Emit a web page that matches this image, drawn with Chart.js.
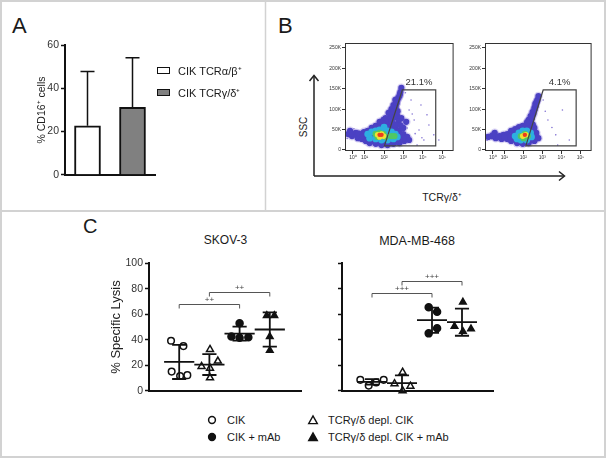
<!DOCTYPE html>
<html>
<head>
<meta charset="utf-8">
<script src="https://cdn.jsdelivr.net/npm/chart.js@4.4.0/dist/chart.umd.min.js"></script>
<style>
  html, body { margin: 0; padding: 0; background: #fff; }
  #fig { position: relative; width: 606px; height: 459px; overflow: hidden;
         font-family: "Liberation Sans", Arial, sans-serif; color: #1a1a1a; }
  #fig canvas { position: absolute; }
  .t { position: absolute; white-space: nowrap; line-height: 1; }
  .c { transform: translate(-50%, -50%); }
  .m { transform: translateY(-50%); }
</style>
</head>
<body>
<div id="fig">
  <svg width="606" height="459" style="position:absolute;left:0;top:0">
    <rect x="1" y="1" width="604" height="456" fill="none" stroke="#d2d2d2" stroke-width="2"/>
    <line x1="265.5" y1="0" x2="265.5" y2="211" stroke="#d2d2d2" stroke-width="1.5"/>
    <line x1="0" y1="211" x2="606" y2="211" stroke="#d2d2d2" stroke-width="2"/>
    <g stroke="#222" stroke-width="1.5" fill="none">
      <line x1="314" y1="176" x2="314" y2="76"/>
      <polyline points="309.5,81 314,75.5 318.5,81"/>
      <line x1="314" y1="176" x2="564" y2="176"/>
      <polyline points="559,171.5 564.5,176 559,180.5"/>
    </g>
    <g id="lysisMarkers"></g>
  </svg>

  <div class="t" style="left:12px;top:15px;font-size:22px">A</div>
  <div class="t" style="left:278px;top:15px;font-size:22px">B</div>
  <div class="t" style="left:83px;top:216px;font-size:20px">C</div>

  <div class="t c" style="left:304px;top:127px;font-size:10px;transform:translate(-50%,-50%) rotate(-90deg)">SSC</div>
  <div class="t c" style="left:442px;top:197px;font-size:10.5px">TCRγ/δ⁺</div>

  <div class="t c" style="left:225.5px;top:240px;font-size:12px">SKOV-3</div>
  <div class="t c" style="left:417px;top:241px;font-size:12.5px">MDA-MB-468</div>

  <canvas id="cd16" width="130" height="146" style="left:30px;top:37px"></canvas>
  <canvas id="facsTotal" width="135" height="125" style="left:323px;top:38px"></canvas>
  <canvas id="facsDepl" width="133" height="125" style="left:463px;top:38px"></canvas>
  <canvas id="skov" width="207" height="144" style="left:100px;top:255px"></canvas>
  <canvas id="mda" width="165" height="144" style="left:334px;top:255px"></canvas>
</div>

<script>
// ---- panel A: % CD16+ cells ----
const cd16Groups = ['CIK TCRα/β⁺', 'CIK TCRγ/δ⁺'];
const cd16Mean = [22.7, 31.2];
const cd16Sd = [25.2, 23.0];
const cd16Ticks = [0, 20, 40, 60];

// ---- panel B: flow plots, x in display decades, y in K events ----
const facsXTicks = [0, 0.6, 1.6, 2.6, 3.6, 4.6];
const facsXLabels = ['10⁰', '10¹', '10²', '10³', '10⁴', '10⁵'];
const facsYTicks = [0, 50, 100, 150, 200, 250];
const facsYLabels = ['0', '50K', '100K', '150K', '200K', '250K'];

const gateTotal = [[1.62, 10], [2.54, 147], [4.26, 147], [4.26, 10]];
const gateDepl = [[1.73, 10], [2.64, 147], [4.37, 147], [4.37, 10]];
const gatePct = ['21.1%', '4.1%'];

const totalSparse = [[2.89, 98], [3.15, 73.5], [3.40, 49], [3.65, 24.5], [3.91, 61], [2.99, 122.5],
  [3.30, 12], [4.16, 37], [3.81, 86], [2.79, 54], [4.42, 24.5], [3.50, 110], [3.05, 88], [3.2, 40],
  [2.7, 140], [3.55, 30], [-0.3, 28], [0.05, 52]];
const totalBlue = [[-0.25, 39], [-0.05, 34], [0.15, 42], [0.36, 37], [0.56, 44], [0.76, 47], [-0.15, 47],
  [0.25, 29], [0.46, 27], [0.66, 29], [0.96, 54], [1.17, 59], [1.37, 61], [1.57, 64], [1.78, 64],
  [1.98, 59], [2.18, 54], [2.39, 47], [2.59, 39], [2.79, 32], [2.89, 24.5], [2.64, 22], [2.39, 17],
  [2.08, 15], [1.78, 12], [1.47, 12], [1.17, 15], [0.86, 17], [0.66, 22], [0.96, 37], [2.28, 29],
  [1.78, 73.5], [1.93, 83], [2.03, 93], [2.13, 103], [2.23, 113], [2.28, 122.5], [2.39, 132],
  [2.44, 142], [2.49, 152], [1.68, 78], [1.83, 91], [1.98, 100], [2.08, 110], [2.18, 122.5],
  [2.59, 54], [2.74, 69], [2.49, 78], [2.28, 83], [1.57, 73.5], [1.37, 69],
  [1.1, 50], [1.3, 54], [1.5, 56], [1.7, 58], [1.9, 55], [2.1, 50], [2.3, 42], [2.5, 35], [2.6, 28],
  [2.4, 24], [2.2, 20], [1.9, 18], [1.6, 17], [1.3, 18], [1.0, 22], [0.8, 33], [1.0, 30], [2.4, 36],
  [2.0, 25], [1.5, 20], [0.05, 38], [0.3, 40], [0.5, 34], [0.7, 36], [-0.1, 40],
  [1.85, 70], [1.95, 78], [2.05, 86], [2.1, 95], [2.2, 105], [2.25, 115], [2.33, 127], [2.42, 137],
  [1.7, 68], [2.0, 70], [2.15, 80], [2.35, 70], [2.3, 95], [1.55, 66], [2.2, 62], [2.45, 60]];
const totalCyan = [[0.76, 39], [0.96, 44], [1.17, 47], [1.37, 49], [1.57, 49], [1.78, 47], [1.98, 44],
  [2.18, 39], [2.28, 32], [2.08, 27], [1.78, 24.5], [1.47, 24.5], [1.17, 27], [0.86, 29], [1.6, 56]];
const totalGreen = [[1.17, 39], [1.37, 42], [1.57, 39], [1.68, 32], [1.27, 32], [1.98, 34], [2.13, 34]];
const totalYellow = [[1.27, 37], [1.47, 39], [1.57, 34], [1.37, 32]];
const totalRed = [[1.37, 37], [1.47, 37]];

const deplSparse = [[2.89, 73.5], [3.30, 37], [3.65, 98], [4.01, 24.5], [2.64, 122.5], [3.40, 12],
  [2.75, 95], [3.1, 55], [-0.3, 24]];
const deplBlue = [[-0.25, 32], [-0.05, 34], [0.15, 29], [0.36, 34], [0.56, 37], [0.76, 39], [0.10, 42],
  [0.46, 27], [0.96, 47], [1.17, 51], [1.37, 56], [1.57, 59], [1.78, 64], [1.98, 64], [2.18, 54],
  [2.28, 42], [2.39, 29], [2.18, 22], [1.88, 17], [1.57, 15], [1.27, 17], [0.96, 22], [0.76, 27],
  [1.88, 73.5], [1.98, 83], [2.08, 93], [2.18, 103], [2.23, 113], [2.34, 122.5], [2.39, 132],
  [1.1, 43], [1.3, 48], [1.5, 52], [1.7, 55], [1.9, 56], [2.1, 48], [2.25, 35], [2.2, 28], [2.0, 24],
  [1.7, 20], [1.4, 20], [1.1, 26], [0.9, 32], [0.3, 32], [0.6, 31], [0.0, 36], [1.95, 70], [2.05, 78],
  [2.13, 88], [2.18, 97], [2.25, 108], [2.3, 118], [1.85, 62], [2.1, 62], [1.8, 68]];
const deplCyan = [[1.17, 34], [1.37, 42], [1.57, 47], [1.78, 47], [1.98, 42], [2.03, 32], [1.78, 24.5],
  [1.47, 24.5], [1.27, 27]];
const deplGreen = [[1.47, 34], [1.68, 39], [1.83, 34], [1.62, 29]];
const deplYellow = [[1.57, 34], [1.73, 37]];
const deplRed = [[1.68, 37]];

// ---- panel C: % specific lysis ----
const lysisGroups = ['CIK', 'TCRγ/δ depl. CIK', 'CIK + mAb', 'TCRγ/δ depl. CIK + mAb'];
const lysisTicks = [0, 20, 40, 60, 80, 100];

const skovCik = [39.2, 35, 15, 11.5, 12.2];
const skovDepl = [32.4, 23.3, 19.0, 17.7, 10.1];
const skovCikMab = [53, 42.5, 41.5, 42];
const skovDeplMab = [59, 59, 42.5, 31.6];
const skovJitter = [[-0.27, 0.14, -0.25, 0.03, 0.27], [0.02, 0.28, -0.26, 0.02, 0.02],
  [0, -0.27, 0, 0.29], [-0.1, 0.15, 0, 0]];
const skovBrackets = [[0, 2, 68.4, '++'], [1, 3, 77.2, '++']];

const mdaCik = [8.5, 4, 6.5, 8.5];
const mdaDepl = [5.5, 14.5, 0, 3.5];
const mdaCikMab = [65.5, 62, 49, 45];
const mdaDeplMab = [69.5, 50.5, 46.5, 48.5];
const mdaJitter = [[-0.39, -0.11, 0.14, 0.39], [-0.25, 0.02, 0.02, 0.28],
  [-0.11, 0.17, 0.17, -0.11], [0.03, -0.25, 0.03, 0.3]];
const mdaBrackets = [[0, 2, 76.5, '+++'], [1, 3, 86.1, '+++']];

const FONT = '"Liberation Sans", Arial, sans-serif';
Chart.defaults.font.family = FONT;
Chart.defaults.color = '#222';
Chart.defaults.animation = false;
Chart.defaults.responsive = false;
Chart.defaults.devicePixelRatio = 1;
Chart.defaults.plugins.legend.display = false;
Chart.defaults.plugins.tooltip.enabled = false;

// html legends
const fig = document.getElementById('fig');
cd16Groups.forEach((name, i) => {
  const top = 66.5 + i * 22;
  const box = document.createElement('div');
  box.style.cssText = `position:absolute;left:157px;top:${top}px;width:11px;height:5px;` +
    `border:1.6px solid #111;background:${i ? '#808080' : '#fff'}`;
  fig.appendChild(box);
  const txt = document.createElement('div');
  txt.className = 't m';
  txt.style.cssText = `left:178px;top:${top + 4.5}px;font-size:11px`;
  txt.textContent = name;
  fig.appendChild(txt);
});

const markerSvg = document.getElementById('lysisMarkers');
lysisGroups.forEach((name, i) => {
  const col = i % 2, row = Math.floor(i / 2);
  const mx = col ? 313 : 212, my = row ? 437 : 420;
  const fill = row ? '#111' : '#fff';
  let shape;
  if (col === 0) {
    shape = `<circle cx="${mx}" cy="${my}" r="3.4" fill="${fill}" stroke="#111" stroke-width="1.5"/>`;
  } else {
    shape = `<polygon points="${mx - 4.3},${my + 3.6} ${mx},${my - 4} ${mx + 4.3},${my + 3.6}" fill="${fill}" stroke="#111" stroke-width="1.4"/>`;
  }
  markerSvg.insertAdjacentHTML('beforeend', shape);
  const txt = document.createElement('div');
  txt.className = 't m';
  txt.style.cssText = `left:${col ? 328 : 227}px;top:${my}px;font-size:11px`;
  txt.textContent = name;
  fig.appendChild(txt);
});

// ---- panel A chart ----
const barErrors = {
  id: 'barErrors',
  afterDatasetsDraw(chart) {
    const { ctx, scales: { y } } = chart;
    const meta = chart.getDatasetMeta(0);
    ctx.save();
    ctx.strokeStyle = '#111';
    ctx.lineWidth = 1.5;
    meta.data.forEach((bar, i) => {
      const top = y.getPixelForValue(cd16Mean[i] + cd16Sd[i]);
      ctx.beginPath();
      ctx.moveTo(bar.x, bar.y);
      ctx.lineTo(bar.x, top);
      ctx.moveTo(bar.x - 7, top);
      ctx.lineTo(bar.x + 7, top);
      ctx.stroke();
    });
    ctx.restore();
  }
};

new Chart(document.getElementById('cd16'), {
  type: 'bar',
  data: {
    labels: cd16Groups,
    datasets: [{
      data: cd16Mean,
      backgroundColor: ['#ffffff', '#808080'],
      borderColor: '#111',
      borderWidth: 2,
      barThickness: 26
    }]
  },
  options: {
    layout: { padding: { top: 8, right: 5, bottom: 6, left: 0 } },
    scales: {
      x: {
        ticks: { display: false },
        grid: { display: false },
        border: { color: '#111', width: 2 },
        afterFit: s => { s.height = 0; }
      },
      y: {
        min: 0, max: 60,
        afterBuildTicks: s => { s.ticks = cd16Ticks.map(v => ({ value: v })); },
        ticks: { font: { size: 10.5 }, padding: 2, color: '#333' },
        grid: { drawOnChartArea: false, tickLength: 4, tickColor: '#111', tickWidth: 1.5 },
        border: { color: '#111', width: 2 },
        title: { display: true, text: '% CD16⁺ cells', font: { size: 10.5 }, padding: { top: 5.7 }, color: '#222' },
        afterFit: s => { s.width = 35; }
      }
    }
  },
  plugins: [barErrors]
});

// ---- panel B charts ----
const facsFrame = {
  id: 'facsFrame',
  afterDatasetsDraw(chart, args, opts) {
    const { ctx, chartArea: a, scales: { x, y } } = chart;
    ctx.save();
    ctx.strokeStyle = '#333';
    ctx.lineWidth = 1;
    ctx.strokeRect(a.left + 0.5, a.top + 0.5, a.width - 1, a.height - 1);
    ctx.strokeStyle = '#444';
    ctx.lineWidth = 1.2;
    ctx.beginPath();
    opts.gate.forEach(([gx, gy], i) => {
      const px = x.getPixelForValue(gx), py = y.getPixelForValue(gy);
      if (i) ctx.lineTo(px, py); else ctx.moveTo(px, py);
    });
    ctx.closePath();
    ctx.stroke();
    const lx = (x.getPixelForValue(opts.gate[1][0]) + x.getPixelForValue(opts.gate[2][0])) / 2;
    const ly = y.getPixelForValue(opts.gate[1][1]) - 8;
    ctx.fillStyle = '#333';
    ctx.font = '9.5px ' + FONT;
    ctx.textAlign = 'center';
    ctx.textBaseline = 'middle';
    ctx.fillText(opts.label, lx, ly);
    ctx.restore();
  }
};

function facsLayer(pts, r, color) {
  return {
    data: pts.map(([x, y]) => ({ x, y })),
    pointRadius: r,
    pointBackgroundColor: color,
    pointBorderWidth: 0,
    pointBorderColor: 'transparent'
  };
}

// dataset 0 is painted last (on top), so the density core comes first
function makeFacs(id, layers, gate, label) {
  const [sparse, blue, cyan, green, yellow, red] = layers;
  new Chart(document.getElementById(id), {
    type: 'scatter',
    data: {
      datasets: [
        facsLayer(red, 2.2, 'rgb(235,60,30)'),
        facsLayer(yellow, 2.8, 'rgb(240,225,50)'),
        facsLayer(green, 3.2, 'rgb(80,200,100)'),
        facsLayer(cyan, 3.4, 'rgb(45,175,225)'),
        facsLayer(blue, 3.1, 'rgb(75,65,195)'),
        facsLayer(blue, 4.4, 'rgba(130,110,215,0.3)'),
        facsLayer(sparse, 0.8, 'rgba(100,80,200,0.8)')
      ]
    },
    options: {
      layout: { padding: { top: 5, right: 3, bottom: 0, left: 0 } },
      scales: {
        x: {
          min: -0.41, max: 5.18,
          afterBuildTicks: s => { s.ticks = facsXTicks.map(v => ({ value: v })); },
          ticks: { font: { size: 5 }, padding: 1, autoSkip: false, maxRotation: 0, color: '#333',
                   callback: (v, i) => facsXLabels[i] },
          grid: { drawOnChartArea: false, tickLength: 3, color: '#333' },
          border: { display: false },
          afterFit: s => { s.height = 12; }
        },
        y: {
          min: -2.5, max: 262,
          afterBuildTicks: s => { s.ticks = facsYTicks.map(v => ({ value: v })); },
          ticks: { font: { size: 5 }, padding: 1, autoSkip: false, color: '#333',
                   callback: (v, i) => facsYLabels[i] },
          grid: { drawOnChartArea: false, tickLength: 3, color: '#333' },
          border: { display: false },
          afterFit: s => { s.width = 22; }
        }
      },
      plugins: { facsFrame: { gate, label } }
    },
    plugins: [facsFrame]
  });
}

makeFacs('facsTotal', [totalSparse, totalBlue, totalCyan, totalGreen, totalYellow, totalRed], gateTotal, gatePct[0]);
makeFacs('facsDepl', [deplSparse, deplBlue, deplCyan, deplGreen, deplYellow, deplRed], gateDepl, gatePct[1]);

// ---- panel C charts ----
function meanSd(vals) {
  const m = vals.reduce((a, b) => a + b, 0) / vals.length;
  const v = vals.reduce((a, b) => a + (b - m) ** 2, 0) / (vals.length - 1);
  return [m, Math.sqrt(v)];
}

const lysisDecor = {
  id: 'lysisDecor',
  afterDatasetsDraw(chart, args, opts) {
    const { ctx, scales: { x, y } } = chart;
    ctx.save();
    ctx.strokeStyle = '#111';
    ctx.lineWidth = 1.8;
    opts.groups.forEach((vals, g) => {
      const [m, sd] = meanSd(vals);
      const cx = x.getPixelForValue(g);
      const half = x.getPixelForValue(g + 0.5) - cx;
      const cap = half * 0.47;
      const ym = y.getPixelForValue(m);
      const yt = y.getPixelForValue(m + sd);
      const yb = y.getPixelForValue(m - sd);
      ctx.beginPath();
      ctx.moveTo(cx - half, ym); ctx.lineTo(cx + half, ym);
      ctx.moveTo(cx, yt); ctx.lineTo(cx, yb);
      ctx.moveTo(cx - cap, yt); ctx.lineTo(cx + cap, yt);
      ctx.moveTo(cx - cap, yb); ctx.lineTo(cx + cap, yb);
      ctx.stroke();
    });
    ctx.strokeStyle = '#555';
    ctx.lineWidth = 1;
    ctx.fillStyle = '#444';
    ctx.font = '8px ' + FONT;
    ctx.textAlign = 'center';
    ctx.textBaseline = 'bottom';
    opts.brackets.forEach(([a, b, v, txt]) => {
      const x1 = x.getPixelForValue(a), x2 = x.getPixelForValue(b);
      const yy = Math.round(y.getPixelForValue(v)) + 0.5;
      ctx.beginPath();
      ctx.moveTo(x1, yy + 4); ctx.lineTo(x1, yy); ctx.lineTo(x2, yy); ctx.lineTo(x2, yy + 4);
      ctx.stroke();
      ctx.fillText(txt, (x1 + x2) / 2, yy - 0.5);
    });
    ctx.restore();
  }
};

const groupStyles = [
  { pointStyle: 'circle', fill: '#fff', r: 3.3 },
  { pointStyle: 'triangle', fill: '#fff', r: 4 },
  { pointStyle: 'circle', fill: '#111', r: 3.5 },
  { pointStyle: 'triangle', fill: '#111', r: 3.8 }
];

function makeLysis(id, groups, jitter, brackets, showLabels) {
  new Chart(document.getElementById(id), {
    type: 'scatter',
    data: {
      datasets: groups.map((vals, g) => ({
        label: lysisGroups[g],
        data: vals.map((v, i) => ({ x: g + jitter[g][i], y: v })),
        pointStyle: groupStyles[g].pointStyle,
        pointRadius: groupStyles[g].r,
        pointBackgroundColor: groupStyles[g].fill,
        pointBorderColor: '#111',
        pointBorderWidth: 1.5,
        clip: false
      }))
    },
    options: {
      layout: { padding: { top: 7, right: 5, bottom: 6, left: 0 } },
      scales: {
        x: {
          type: 'linear', min: -1, max: 4.05,
          ticks: { display: false },
          grid: { display: false },
          border: { color: '#111', width: 2 },
          afterFit: s => { s.height = 0; }
        },
        y: {
          min: 0, max: 100,
          afterBuildTicks: s => { s.ticks = lysisTicks.map(v => ({ value: v })); },
          ticks: { font: { size: 10.5 }, padding: 2, color: '#333',
                   callback: v => (showLabels ? String(v) : '') },
          grid: { drawOnChartArea: false, tickLength: 4, tickColor: '#111', tickWidth: 1.5 },
          border: { color: '#111', width: 2 },
          title: { display: showLabels, text: '% Specific Lysis', font: { size: 13 },
                   padding: { top: 8.2 }, color: '#222' },
          afterFit: s => { s.width = showLabels ? 49 : 8; }
        }
      },
      plugins: { lysisDecor: { groups, brackets } }
    },
    plugins: [lysisDecor]
  });
}

makeLysis('skov', [skovCik, skovDepl, skovCikMab, skovDeplMab], skovJitter, skovBrackets, true);
makeLysis('mda', [mdaCik, mdaDepl, mdaCikMab, mdaDeplMab], mdaJitter, mdaBrackets, false);
</script>
</body>
</html>
